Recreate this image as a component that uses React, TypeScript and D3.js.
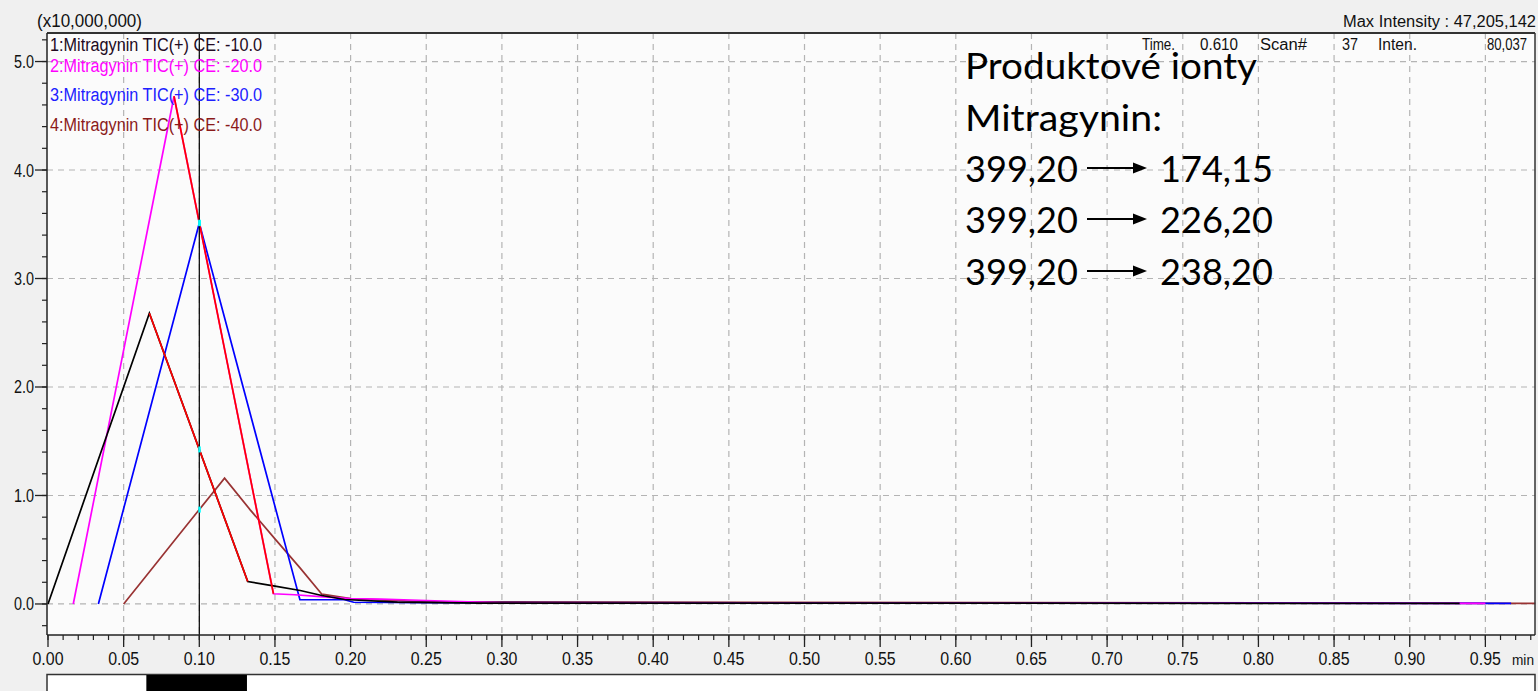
import React from "react";
import * as d3 from "d3";

// ---------- data ----------
const traceLabels = [
  "1:Mitragynin TIC(+) CE: -10.0",
  "2:Mitragynin TIC(+) CE: -20.0",
  "3:Mitragynin TIC(+) CE: -30.0",
  "4:Mitragynin TIC(+) CE: -40.0",
];

// retention time (min) and intensity (x10,000,000)
const ce10Times = [0.0, 0.067, 0.132, 0.15, 0.1667, 0.181, 0.196, 0.231, 0.286, 0.933];
const ce10Values = [0.0, 2.68, 0.207, 0.164, 0.124, 0.078, 0.041, 0.017, 0.008, 0.006];

const ce20Times = [0.0167, 0.0833, 0.149, 0.163, 0.18, 0.2, 0.22, 0.25, 0.3, 0.95];
const ce20Values = [0.0, 4.68, 0.094, 0.085, 0.068, 0.05, 0.045, 0.032, 0.01, 0.006];

const ce30Times = [0.0333, 0.1, 0.1665, 0.196, 0.202, 0.25, 0.967];
const ce30Values = [0.0, 3.51, 0.039, 0.039, 0.016, 0.012, 0.006];

const ce40Times = [0.05, 0.0667, 0.0833, 0.1, 0.1167, 0.1335, 0.15, 0.1667, 0.181, 0.2, 0.25, 0.983];
const ce40Values = [0.0, 0.29, 0.58, 0.87, 1.16, 0.87, 0.6, 0.33, 0.09, 0.05, 0.02, 0.006];

// descending segments shown in red (series index, from point, to point)
const highlightSegments: [number, number, number][] = [
  [0, 1, 2],
  [1, 1, 2],
];

const yTickValues = [0, 1, 2, 3, 4, 5];
const yTickLabels = ["0.0", "1.0", "2.0", "3.0", "4.0", "5.0"];
const xTickValues = [0, 0.05, 0.1, 0.15, 0.2, 0.25, 0.3, 0.35, 0.4, 0.45, 0.5, 0.55, 0.6, 0.65, 0.7, 0.75, 0.8, 0.85, 0.9, 0.95];
const xTickLabels = ["0.00", "0.05", "0.10", "0.15", "0.20", "0.25", "0.30", "0.35", "0.40", "0.45", "0.50", "0.55", "0.60", "0.65", "0.70", "0.75", "0.80", "0.85", "0.90", "0.95"];
const xUnitLabel = "min";
const scaleLabel = "(x10,000,000)";
const maxIntensityLabel = "Max Intensity : 47,205,142";
const infoLabels = ["Time.", "0.610", "Scan#", "37", "Inten.", "80,037"];
const cursorTime = 0.1;
const navigatorWindow = [0.065, 0.1315];
const annotationTitle = ["Produktové ionty", "Mitragynin:"];
const precursorIons = ["399,20", "399,20", "399,20"];
const productIons = ["174,15", "226,20", "238,20"];

// ---------- styles / layout ----------
const W = 1538;
const H = 691;
const plot = { left: 47, right: 1535, top: 33, bottom: 635 };
const traceColors = ["#000000", "#ff00ff", "#0000ff", "#993333"];
const legendColors = ["#220a22", "#ff00ff", "#2020ff", "#8b1a1a"];
const legendBaselines = [51, 72, 101, 131];
const infoPos: [number, number, "start" | "end"][] = [
  [1142, 33, "start"],
  [1200, 38, "start"],
  [1260, 47, "start"],
  [1342, 16, "start"],
  [1378, 39, "start"],
  [1527, 40, "end"],
];
const titleWidths = [292, 197];
const chartFont = "'Liberation Sans', Arial, sans-serif";
const annoFont = "Lato, 'Open Sans', sans-serif";
const fs = 18;

export default function App() {
  const x = d3.scaleLinear().domain([0, 0.9828]).range([48, 1535]);
  const y = d3.scaleLinear().domain([-0.286, 5.263]).range([635, 33]);

  const series = [
    { t: ce10Times, v: ce10Values },
    { t: ce20Times, v: ce20Values },
    { t: ce30Times, v: ce30Values },
    { t: ce40Times, v: ce40Values },
  ].map((s) => s.t.map((t, i) => [t, s.v[i]] as [number, number]));

  const line = d3
    .line<[number, number]>()
    .x((d) => x(d[0]))
    .y((d) => y(d[1]));

  const yMinor = d3.range(-0.2, 5.21, 0.2);
  const xMinor = d3.range(0, 0.9828, 0.01);

  const interp = (pts: [number, number][], t: number) => {
    for (let i = 0; i < pts.length - 1; i++) {
      if (pts[i][0] <= t && pts[i + 1][0] >= t) {
        const f = (t - pts[i][0]) / (pts[i + 1][0] - pts[i][0]);
        return pts[i][1] + f * (pts[i + 1][1] - pts[i][1]);
      }
    }
    return null;
  };

  const drawOrder = [3, 2, 1, 0];
  const annoX = 965;
  const annoBaselines = [79, 131, 182, 233, 285];

  return (
    <svg
      width={W}
      height={H}
      style={{ position: "fixed", left: 0, top: 0, background: "#f0f0f0" }}
      fontFamily={chartFont}
    >
      <rect x={0} y={0} width={W} height={H} fill="#f0f0f0" />
      {/* plot background */}
      <rect x={plot.left} y={plot.top} width={plot.right - plot.left} height={plot.bottom - plot.top} fill="#fbfbfb" />

      {/* grid */}
      {xTickValues.slice(1).map((v) => (
        <line key={"gx" + v} x1={x(v)} x2={x(v)} y1={plot.top} y2={plot.bottom} stroke="#b4b4b4" strokeWidth={1.2} strokeDasharray="6,5" />
      ))}
      {yTickValues.map((v) => (
        <line key={"gy" + v} x1={plot.left} x2={plot.right} y1={y(v)} y2={y(v)} stroke="#b4b4b4" strokeWidth={1.2} strokeDasharray="6,5" />
      ))}

      {/* traces */}
      {drawOrder.map((si) => (
        <path key={"tr" + si} d={line(series[si]) || ""} fill="none" stroke={traceColors[si]} strokeWidth={1.7} />
      ))}
      {highlightSegments.map(([si, a, b]) => (
        <path key={"hl" + si} d={line(series[si].slice(a, b + 1)) || ""} fill="none" stroke="#ff0000" strokeWidth={1.7} />
      ))}

      {/* cursor */}
      <line x1={x(cursorTime)} x2={x(cursorTime)} y1={plot.top} y2={plot.bottom} stroke="#000" strokeWidth={1.2} />
      {series.map((pts, si) => {
        const v = interp(pts, cursorTime);
        if (v === null) return null;
        return <rect key={"cur" + si} x={x(cursorTime) - 1} y={y(v) - 3} width={2.5} height={6} fill="#00ffff" />;
      })}

      {/* frame */}
      <line x1={plot.left} x2={plot.right} y1={plot.top} y2={plot.top} stroke="#333" strokeWidth={2} />
      <line x1={plot.left} x2={plot.left} y1={plot.top} y2={plot.bottom} stroke="#222" strokeWidth={1.5} />
      <line x1={plot.right} x2={plot.right} y1={plot.top} y2={plot.bottom} stroke="#333" strokeWidth={1.5} />
      <line x1={plot.left} x2={plot.right} y1={plot.bottom} y2={plot.bottom} stroke="#222" strokeWidth={1.5} />

      {/* y ticks */}
      {yMinor.map((v, i) => (
        <line key={"ym" + i} x1={plot.left - 5} x2={plot.left} y1={y(v)} y2={y(v)} stroke="#222" strokeWidth={1.2} />
      ))}
      {yTickValues.map((v, i) => (
        <g key={"yt" + v}>
          <line x1={plot.left - 12} x2={plot.left} y1={y(v)} y2={y(v)} stroke="#222" strokeWidth={1.3} />
          <text x={34} y={y(v) + 6.5} textAnchor="end" fontSize={fs} fill="#111" textLength={20} lengthAdjust="spacingAndGlyphs">
            {yTickLabels[i]}
          </text>
        </g>
      ))}

      {/* x ticks */}
      {xMinor.map((v, i) => (
        <line key={"xm" + i} x1={x(v)} x2={x(v)} y1={plot.bottom} y2={plot.bottom + 5} stroke="#222" strokeWidth={1.2} />
      ))}
      {xTickValues.map((v, i) => (
        <g key={"xt" + v}>
          <line x1={x(v)} x2={x(v)} y1={plot.bottom} y2={plot.bottom + 12} stroke="#222" strokeWidth={1.3} />
          <text x={x(v)} y={665} textAnchor="middle" fontSize={fs} fill="#111" textLength={31} lengthAdjust="spacingAndGlyphs">
            {xTickLabels[i]}
          </text>
        </g>
      ))}
      <text x={1512} y={665} fontSize={15} fill="#111" textLength={22} lengthAdjust="spacingAndGlyphs">
        {xUnitLabel}
      </text>

      {/* header texts */}
      <text x={37} y={27} fontSize={fs} fill="#111" textLength={105} lengthAdjust="spacingAndGlyphs">
        {scaleLabel}
      </text>
      <text x={1536} y={27} textAnchor="end" fontSize={16} fill="#111" textLength={193} lengthAdjust="spacingAndGlyphs">
        {maxIntensityLabel}
      </text>
      {infoLabels.map((s, i) => (
        <text key={"info" + i} x={infoPos[i][0]} y={50} textAnchor={infoPos[i][2]} fontSize={16} fill="#111" textLength={infoPos[i][1]} lengthAdjust="spacingAndGlyphs">
          {s}
        </text>
      ))}

      {/* legend */}
      {traceLabels.map((s, i) => (
        <text key={"lg" + i} x={50} y={legendBaselines[i]} fontSize={fs} fill={legendColors[i]} textLength={212} lengthAdjust="spacingAndGlyphs">
          {s}
        </text>
      ))}

      {/* annotation */}
      <g fontFamily={annoFont} fontSize={36} fill="#000">
        {annotationTitle.map((s, i) => (
          <text key={"at" + i} x={annoX} y={annoBaselines[i]} textLength={titleWidths[i]} lengthAdjust="spacingAndGlyphs">
            {s}
          </text>
        ))}
        {precursorIons.map((s, i) => {
          const by = annoBaselines[i + 2];
          const ay = by - 14;
          return (
            <g key={"ion" + i}>
              <text x={annoX} y={by} textLength={113} lengthAdjust="spacingAndGlyphs">{s}</text>
              <line x1={1087} x2={1134} y1={ay} y2={ay} stroke="#000" strokeWidth={2} />
              <path d={`M1133,${ay - 5.5} L1147,${ay} L1133,${ay + 5.5} Z`} fill="#000" />
              <text x={1160} y={by} textLength={113} lengthAdjust="spacingAndGlyphs">{productIons[i]}</text>
            </g>
          );
        })}
      </g>

      {/* navigator bar */}
      <rect x={plot.left} y={674.5} width={plot.right - plot.left} height={30} fill="#ffffff" stroke="#333" strokeWidth={1.5} />
      <rect x={x(navigatorWindow[0])} y={675} width={x(navigatorWindow[1]) - x(navigatorWindow[0])} height={20} fill="#000" />
    </svg>
  );
}
